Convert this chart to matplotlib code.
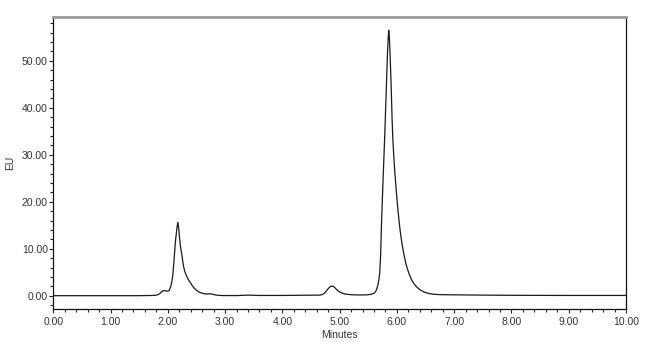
import matplotlib
matplotlib.use("Agg")
import matplotlib.pyplot as plt
from matplotlib.ticker import MultipleLocator, FormatStrFormatter

# Chromatogram samples (time in minutes, signal in EU)
minutes = [0.00, 0.50, 1.00, 1.50, 1.75, 1.80, 1.835, 1.87, 1.90, 1.93, 1.96, 1.99, 2.02,
           2.05, 2.07, 2.087, 2.10, 2.115, 2.13, 2.145, 2.16, 2.175, 2.19, 2.20, 2.22,
           2.245, 2.27, 2.295, 2.32, 2.35, 2.38, 2.42, 2.46, 2.51, 2.56, 2.62, 2.67,
           2.71, 2.75, 2.80, 2.86, 2.95, 3.20, 3.40, 3.60, 4.00, 4.40, 4.65, 4.70,
           4.74, 4.78, 4.82, 4.85, 4.87, 4.90, 4.94, 4.98, 5.03, 5.10, 5.20, 5.35,
           5.48, 5.55, 5.60, 5.63, 5.65, 5.67, 5.685, 5.70, 5.715, 5.73, 5.75, 5.77,
           5.79, 5.805, 5.82, 5.835, 5.847, 5.857, 5.868, 5.88, 5.90, 5.916, 5.93,
           5.944, 5.965, 5.986, 6.01, 6.03, 6.05, 6.07, 6.095, 6.12, 6.15, 6.18,
           6.22, 6.26, 6.30, 6.35, 6.41, 6.48, 6.56, 6.65, 6.75, 7.00, 7.50, 8.00,
           9.00, 10.00]
eu = [0.00, 0.00, 0.00, 0.00, 0.05, 0.12, 0.25, 0.55, 0.90, 1.08, 1.05, 0.95, 1.05,
      1.90, 3.00, 4.40, 6.30, 8.70, 11.20, 12.90, 14.60, 15.60, 14.30, 12.90, 10.50,
      8.70, 6.50, 5.20, 4.40, 3.60, 3.00, 2.25, 1.60, 1.05, 0.70, 0.45, 0.35,
      0.40, 0.38, 0.25, 0.10, 0.03, 0.02, 0.12, 0.05, 0.05, 0.10, 0.12, 0.25,
      0.60, 1.20, 1.75, 2.00, 2.06, 1.90, 1.40, 0.95, 0.60, 0.35, 0.20, 0.15,
      0.18, 0.30, 0.50, 0.90, 1.50, 2.40, 3.40, 5.00, 8.50, 15.00, 22.00, 28.50,
      35.00, 40.50, 46.00, 51.50, 54.80, 56.50, 55.00, 51.60, 44.50, 37.40, 33.00,
      29.90, 26.00, 22.80, 19.30, 16.80, 14.50, 12.60, 10.60, 8.90, 7.20, 5.80,
      4.40, 3.30, 2.50, 1.80, 1.20, 0.75, 0.45, 0.30, 0.22, 0.18, 0.12, 0.08,
      0.05, 0.05]

x_ticks = [0, 1, 2, 3, 4, 5, 6, 7, 8, 9, 10]
y_ticks = [0, 10, 20, 30, 40, 50]

plt.rcParams['font.family'] = ['Liberation Sans', 'DejaVu Sans']

fig = plt.figure(figsize=(6.5, 3.44), dpi=100)
ax = fig.add_axes([53.3 / 650, 1 - 309.3 / 344, (626 - 53.3) / 650, (309.3 - 16.7) / 344])

ax.plot(minutes, eu, color='#1a1a1a', linewidth=0.9)

ax.set_xlim(0, 10)
ax.set_ylim(-2.9, 59.4)
ax.set_xticks(x_ticks)
ax.set_yticks(y_ticks)
ax.xaxis.set_minor_locator(MultipleLocator(0.2))
ax.yaxis.set_minor_locator(MultipleLocator(2))
ax.xaxis.set_major_formatter(FormatStrFormatter('%.2f'))
ax.yaxis.set_major_formatter(FormatStrFormatter('%.2f'))

ax.tick_params(axis='both', which='major', length=3, width=0.8, labelsize=7.5,
               colors='#222222', labelcolor='#333333')
ax.tick_params(axis='both', which='minor', length=2, width=0.8, colors='#222222')
ax.tick_params(axis='x', which='both', pad=2.5)
ax.tick_params(axis='y', which='both', pad=1)

for side in ('left', 'bottom', 'right'):
    ax.spines[side].set_color('#111111')
    ax.spines[side].set_linewidth(0.9)
ax.spines['top'].set_color('#999999')
ax.spines['top'].set_linewidth(2.0)

ax.set_xlabel('Minutes', fontsize=7.5, color='#333333', labelpad=2)
ax.set_ylabel('EU', fontsize=7.5, color='#333333', labelpad=5)

fig.savefig('out.png', dpi=100)
